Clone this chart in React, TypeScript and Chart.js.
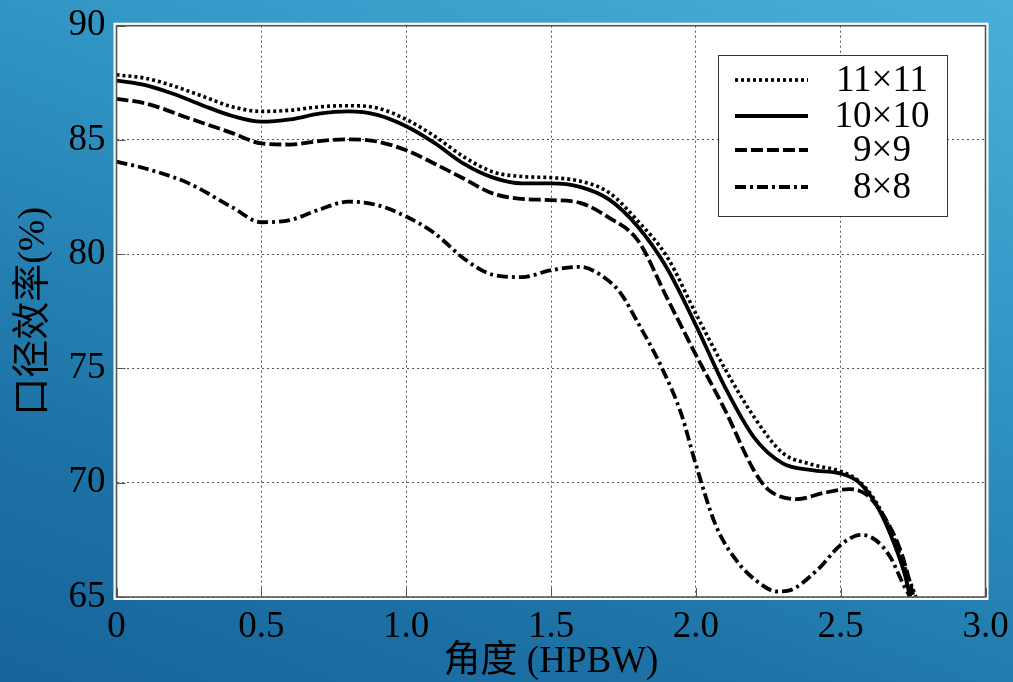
import React, { useEffect, useRef } from 'react';
import { Chart, registerables } from 'chart.js';

Chart.register(...registerables);

const FONT = '"Liberation Serif", "Noto Sans CJK SC", serif';

const seriesLabels = ['11×11', '10×10', '9×9', '8×8'];

const x11 = [0, 0.1, 0.2, 0.3, 0.4, 0.5, 0.6, 0.7, 0.8, 0.9, 1.0, 1.1, 1.2, 1.3, 1.4, 1.5, 1.6, 1.7, 1.8, 1.9, 2.0, 2.1, 2.2, 2.3, 2.4, 2.5, 2.56, 2.62, 2.68, 2.73, 2.76];
const y11 = [87.85, 87.7, 87.35, 86.9, 86.45, 86.25, 86.3, 86.45, 86.5, 86.4, 85.9, 85.15, 84.25, 83.6, 83.4, 83.35, 83.2, 82.7, 81.45, 79.9, 77.4, 75.0, 72.9, 71.3, 70.8, 70.5, 70.1, 69.2, 67.7, 66.0, 65.0];

const x10 = [0, 0.1, 0.2, 0.3, 0.4, 0.5, 0.6, 0.7, 0.8, 0.9, 1.0, 1.1, 1.2, 1.3, 1.4, 1.5, 1.6, 1.7, 1.8, 1.9, 2.0, 2.1, 2.2, 2.3, 2.4, 2.5, 2.56, 2.62, 2.67, 2.72, 2.74];
const y10 = [87.6, 87.4, 87.0, 86.5, 86.05, 85.8, 85.9, 86.15, 86.25, 86.1, 85.6, 84.85, 83.95, 83.35, 83.1, 83.1, 82.95, 82.4, 81.2, 79.4, 76.9, 74.2, 72.0, 70.85, 70.55, 70.4, 70.05, 69.1, 67.8, 66.05, 65.0];

const x9 = [0, 0.1, 0.25, 0.4, 0.5, 0.6, 0.7, 0.8, 0.9, 1.0, 1.1, 1.2, 1.3, 1.4, 1.5, 1.6, 1.7, 1.8, 1.9, 2.0, 2.1, 2.2, 2.25, 2.35, 2.44, 2.53, 2.59, 2.65, 2.71, 2.75];
const y9 = [86.8, 86.6, 85.95, 85.3, 84.85, 84.8, 84.95, 85.03, 84.93, 84.55, 83.95, 83.3, 82.65, 82.42, 82.37, 82.25, 81.6, 80.6, 78.1, 75.6, 73.2, 70.55, 69.7, 69.28, 69.55, 69.72, 69.47, 68.52, 66.92, 65.1];

const x8 = [0, 0.1, 0.25, 0.4, 0.5, 0.6, 0.7, 0.8, 0.9, 1.0, 1.1, 1.2, 1.3, 1.4, 1.5, 1.6, 1.67, 1.74, 1.8, 1.88, 1.95, 2.0, 2.07, 2.14, 2.21, 2.28, 2.32, 2.42, 2.5, 2.57, 2.62, 2.67, 2.72, 2.74];
const y8 = [84.05, 83.75, 83.1, 82.05, 81.4, 81.5, 81.95, 82.3, 82.15, 81.65, 80.9, 79.8, 79.1, 79.0, 79.3, 79.45, 79.1, 78.3, 77.0, 75.1, 73.0, 70.8, 68.1, 66.6, 65.7, 65.24, 65.28, 66.19, 67.28, 67.72, 67.5, 66.77, 65.46, 65.0];

const xTickValues = [0, 0.5, 1.0, 1.5, 2.0, 2.5, 3.0];
const yTickValues = [65, 70, 75, 80, 85, 90];

const dashes = [[3, 3], [], [12, 4], [11, 4, 3, 4]];
const widths = [3.6, 3.8, 3.8, 3.8];

const toPts = (xs: number[], ys: number[]) => xs.map((x, i) => ({ x, y: ys[i] }));

const framePlugin = {
  id: 'frame',
  beforeDraw(chart: any) {
    const { ctx, chartArea: a } = chart;
    ctx.save();
    ctx.fillStyle = '#ffffff';
    ctx.fillRect(a.left - 3, a.top - 3, a.right - a.left + 6, a.bottom - a.top + 6);
    ctx.restore();
  },
  afterDraw(chart: any) {
    const { ctx, chartArea: a } = chart;
    const xs = chart.scales.x;
    const ys = chart.scales.y;
    ctx.save();
    ctx.strokeStyle = '#555';
    ctx.lineWidth = 1;
    ctx.setLineDash([]);
    xTickValues.forEach((v) => {
      const px = Math.round(xs.getPixelForValue(v)) + 0.5;
      ctx.beginPath();
      ctx.moveTo(px, a.bottom);
      ctx.lineTo(px, a.bottom - 9);
      ctx.stroke();
    });
    yTickValues.forEach((v) => {
      const py = Math.round(ys.getPixelForValue(v)) + 0.5;
      ctx.beginPath();
      ctx.moveTo(a.left, py);
      ctx.lineTo(a.left + 9, py);
      ctx.stroke();
    });
    ctx.strokeStyle = '#555';
    ctx.lineWidth = 1.6;
    ctx.strokeRect(a.left, a.top, a.right - a.left, a.bottom - a.top);
    // legend
    const bx = 718.5, by = 55.5, bw = 229, bh = 161;
    ctx.fillStyle = '#fff';
    ctx.fillRect(bx, by, bw, bh);
    ctx.strokeStyle = '#333';
    ctx.lineWidth = 1;
    ctx.strokeRect(bx, by, bw, bh);
    const rows = [80, 116, 150, 187];
    chart.data.datasets.forEach((ds: any, i: number) => {
      ctx.setLineDash(ds.borderDash || []);
      ctx.lineWidth = ds.borderWidth;
      ctx.strokeStyle = '#000';
      ctx.beginPath();
      ctx.moveTo(735, rows[i]);
      ctx.lineTo(808, rows[i]);
      ctx.stroke();
      ctx.setLineDash([]);
      ctx.font = '37px ' + FONT;
      ctx.textAlign = 'center';
      ctx.textBaseline = 'middle';
      ctx.fillStyle = '#000';
      ctx.fillText(ds.label, 882, rows[i] + 1);
    });
    ctx.restore();
  },
};

export default function App() {
  const ref = useRef<HTMLCanvasElement>(null);
  useEffect(() => {
    document.body.style.margin = '0';
    const all = [toPts(x11, y11), toPts(x10, y10), toPts(x9, y9), toPts(x8, y8)];
    const chart = new Chart(ref.current as HTMLCanvasElement, {
      type: 'scatter',
      data: {
        datasets: all.map((d, i) => ({
          label: seriesLabels[i],
          data: d,
          showLine: true,
          borderColor: '#000',
          backgroundColor: '#000',
          borderWidth: widths[i],
          borderDash: dashes[i],
          borderCapStyle: 'butt',
          pointRadius: 0,
          pointHoverRadius: 0,
          cubicInterpolationMode: 'monotone',
          fill: false,
        })),
      },
      options: {
        animation: false,
        responsive: false,
        events: [],
        layout: { padding: { left: 0, right: 27.5, top: 25.7, bottom: 0 } },
        plugins: { legend: { display: false }, tooltip: { enabled: false } },
        scales: {
          x: {
            type: 'linear',
            min: 0,
            max: 3,
            afterFit(s: any) { s.height = 85; s.paddingLeft = 0; s.paddingRight = 0; },
            afterBuildTicks(s: any) { s.ticks = xTickValues.map((v) => ({ value: v })); },
            ticks: {
              color: '#000',
              font: { family: FONT, size: 37 },
              padding: 8,
              maxRotation: 0,
              callback: (v: any) => (Number(v) === 0 ? '0' : Number(v).toFixed(1)),
            },
            grid: { color: '#555', lineWidth: 1, drawTicks: false },
            border: { display: false, dash: [2, 3] },
            title: {
              display: true,
              text: '角度 (HPBW)',
              color: '#000',
              font: { family: FONT, size: 37, lineHeight: 1 },
              padding: { top: 0, bottom: 1 },
            },
          },
          y: {
            type: 'linear',
            min: 65,
            max: 90,
            afterFit(s: any) { s.width = 116.5; s.paddingTop = 0; s.paddingBottom = 0; },
            afterBuildTicks(s: any) { s.ticks = yTickValues.map((v) => ({ value: v })); },
            ticks: {
              color: '#000',
              font: { family: FONT, size: 37 },
              padding: 11,
            },
            grid: { color: '#555', lineWidth: 1, drawTicks: false },
            border: { display: false, dash: [2, 3] },
            title: {
              display: true,
              text: '口径效率(%)',
              color: '#000',
              font: { family: FONT, size: 38, lineHeight: 1 },
              padding: { top: 15, bottom: 0 },
            },
          },
        },
      },
      plugins: [framePlugin],
    } as any);
    return () => chart.destroy();
  }, []);
  return (
    <div
      style={{
        position: 'fixed',
        left: 0,
        top: 0,
        width: 1013,
        height: 682,
        background: 'linear-gradient(200deg, #4aafd8 0%, #3196c4 35%, #1d72a6 75%, #17649a 100%)',
      }}
    >
      <canvas ref={ref} width={1013} height={682} style={{ display: 'block' }} />
    </div>
  );
}
